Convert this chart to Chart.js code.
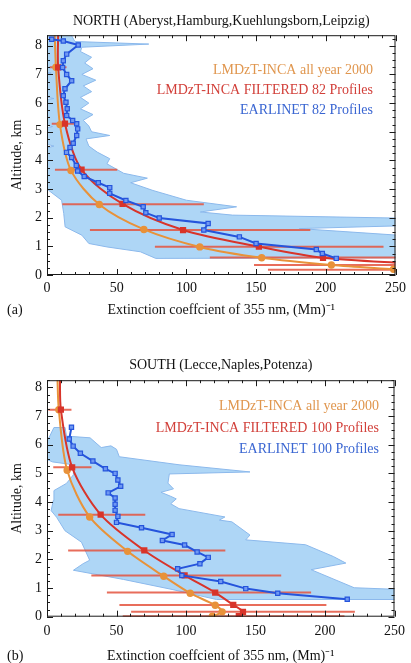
<!DOCTYPE html>
<html>
<head>
<meta charset="utf-8">
<script src="https://cdn.jsdelivr.net/npm/chart.js@4"></script>
<style>
  body { margin: 0; background: #fff; width: 411px; height: 663px; overflow: hidden; }
  canvas { position: absolute; left: 0; }
  #north { top: 0; }
  #south { top: 330px; }
</style>
</head>
<body>
<canvas id="north" width="411" height="330"></canvas>
<canvas id="south" width="411" height="333"></canvas>
<script>
// axis ticks
const xTicks = [0, 50, 100, 150, 200, 250];
const yTicks = [0, 1, 2, 3, 4, 5, 6, 7, 8];

// ---- NORTH panel ----
const northAllYearExt = [248.6, 204, 154, 109.6, 69.5, 37.5, 17.2, 9.3, 6.4, 5.5];
const northAllYearAlt = [0.2, 0.35, 0.6, 0.98, 1.59, 2.46, 3.65, 5.25, 7.25, 8.45];

const northFilteredExt = [300, 275, 198, 152, 97.6, 54.2, 24.8, 12.9, 8, 8];
const northFilteredAlt = [0.18, 0.35, 0.6, 0.99, 1.57, 2.48, 3.68, 5.28, 7.25, 8.45];

const northBarAlt = [7.25, 5.28, 3.67, 2.47, 1.57, 0.99, 0.61, 0.35, 0.18];
const northBarLo = [2, 3.4, 5.7, 11, 30.8, 77.4, 116.8, 148.5, 158.5];
const northBarHi = [14, 20, 50.4, 112.5, 188.9, 241.4, 400, 400, 420];

const northEarlExt = [207.5, 197.5, 193.2, 150, 138, 112.5, 115.6, 80.5, 70.9, 69, 56.6, 45, 45, 36.8, 26.7, 22, 21, 17.7, 14,
  16.5, 18.8, 21.3, 22, 21.3, 18.4, 14.1, 14.5, 13.6, 11.7, 12.9, 17.7, 14.1, 11.2, 11.7, 14.1, 22.4, 11.7, 3.4];
const northEarlAlt = [0.58, 0.75, 0.89, 1.1, 1.33, 1.57, 1.8, 1.99, 2.17, 2.38, 2.6, 2.85, 3.05, 3.22, 3.44, 3.63, 3.82, 4.1, 4.28,
  4.45, 4.6, 4.87, 5.1, 5.28, 5.39, 5.57, 5.8, 6.03, 6.26, 6.5, 6.78, 7.0, 7.24, 7.48, 7.71, 8.03, 8.17, 8.23];

// spread of the EARLINET profiles: left edge bottom->top, right edge top->bottom
const northBandLeftExt = [78, 67, 43, 30, 25, 13, 12, 10.5, 1, -3, -3, 5, -3, -3, 4, -3, -3, 5, -3, -3, 3, -3, -3];
const northBandLeftAlt = [0.58, 0.81, 0.98, 1.1, 1.39, 1.68, 2.15, 2.61, 2.96, 3.3, 4.4, 4.5, 4.6, 5.1, 5.18, 5.26, 6.1, 6.16, 6.22, 7.0, 7.05, 7.1, 8.5];
const northBandRightExt = [16, 20, 73, 25, 24, 32, 27, 33, 25, 35, 26, 32, 24, 30, 24, 33, 26, 30, 32, 45, 28, 30, 36, 45, 43,
  55, 72, 60, 76, 100, 136, 110, 133, 270, 270, 181, 270, 270];
const northBandRightAlt = [8.5, 8.15, 8.06, 7.95, 7.8, 7.6, 7.4, 7.2, 7.0, 6.8, 6.6, 6.4, 6.2, 6.0, 5.8, 5.6, 5.4, 5.2, 5.0, 4.87, 4.75, 4.5, 4.29, 4.06, 3.88,
  3.55, 3.38, 3.22, 2.95, 2.61, 2.38, 2.2, 2.09, 1.97, 1.74, 1.62, 1.33, 0.6];

// ---- SOUTH panel ----
const southAllYearExt = [119, 126, 121, 103, 84, 58, 30.7, 14.5, 8.5, 7.5];
const southAllYearAlt = [0.02, 0.17, 0.4, 0.82, 1.41, 2.28, 3.48, 5.11, 7.22, 8.35];

const southFilteredExt = [138, 141, 134, 121, 99, 70, 38.6, 18.1, 10, 9.3];
const southFilteredAlt = [0.02, 0.17, 0.41, 0.84, 1.44, 2.31, 3.56, 5.21, 7.22, 8.35];

const southBarAlt = [7.22, 5.21, 3.56, 2.31, 1.44, 0.84, 0.41, 0.17, 0.02];
const southBarLo = [1, 4.5, 8.1, 15.2, 31.9, 43.1, 52.1, 60.5, 54.5];
const southBarHi = [17.6, 32, 70.7, 128.3, 168.5, 190, 201, 221.5, 214];

const southEarlExt = [216, 166, 143, 125, 97, 94, 110, 116, 108, 99, 83, 90, 68, 50, 51, 49, 49, 49, 44, 53, 51, 49, 42, 33, 24, 18.8, 16, 17.6];
const southEarlAlt = [0.61, 0.82, 0.98, 1.23, 1.44, 1.67, 1.85, 2.07, 2.26, 2.5, 2.66, 2.87, 3.1, 3.29, 3.5, 3.71, 3.92, 4.14, 4.32, 4.55, 4.77, 5.0, 5.16, 5.43, 5.7, 5.95, 6.2, 6.61];

const southBandLeftExt = [122, 90, 55, 19, 26, 30.7, 24.8, 12.9, 6.9, 3, 4.5, 5, 14, 19, 19, 4, -3, -3, 2, 5];
const southBandLeftAlt = [0.6, 0.95, 1.3, 1.62, 1.85, 1.97, 2.6, 3.0, 3.47, 3.7, 4.05, 4.4, 4.65, 4.95, 5.3, 5.4, 5.55, 5.9, 6.3, 6.6];
const southBandRightExt = [13, 14, 31, 39, 46, 50, 52, 95, 146, 88, 87, 91, 82, 89, 93, 89, 95, 128, 124, 133, 146, 143, 186, 206, 215, 190, 221, 270, 270];
const southBandRightAlt = [6.6, 6.3, 6.24, 5.9, 5.96, 5.84, 5.58, 5.3, 5.05, 4.98, 4.66, 4.46, 4.34, 4.2, 4.11, 3.94, 3.77, 3.48, 3.37, 3.31, 2.85, 2.68, 2.51, 2.1, 1.87, 1.64, 1.01, 0.92, 0.6];

const X_TITLE = 'Extinction coeffcient of 355 nm, (Mm)\u207B\u00B9';
const SERIF = "'Liberation Serif', 'Times New Roman', serif";

Chart.defaults.font.family = SERIF;
Chart.defaults.font.size = 14;
Chart.defaults.color = '#111';

const ORANGE = '#e8923a';
const RED = '#d8342a';
const BLUE = '#2554dc';
const BAR = 'rgba(228,84,62,0.85)';

function pts(xs, ys) {
  return xs.map((x, i) => ({ x: x, y: ys[i] }));
}

function lastNoMarker(r) {
  return c => (c.dataIndex === c.dataset.data.length - 1 ? 0 : r);
}

function buildDatasets(d) {
  const sets = [];
  const band = pts(d.bandLX, d.bandLY).concat(pts(d.bandRX, d.bandRY));
  band.push(band[0]);
  sets.push({
    data: band, fill: 'shape', backgroundColor: 'rgba(170,212,246,0.95)',
    borderColor: '#8cb9ec', borderWidth: 1, pointRadius: 0, tension: 0, order: 9
  });
  d.barAlt.forEach((a, i) => {
    sets.push({
      data: [{ x: d.barLo[i], y: a }, { x: d.barHi[i], y: a }],
      borderColor: BAR, borderWidth: 2, pointRadius: 0, order: 5
    });
  });
  sets.push({
    data: pts(d.allX, d.allY), borderColor: ORANGE, borderWidth: 2, tension: 0.3,
    pointStyle: 'circle', pointRadius: lastNoMarker(2.7), pointBackgroundColor: ORANGE, pointBorderColor: ORANGE, order: 3
  });
  sets.push({
    data: pts(d.filtX, d.filtY), borderColor: RED, borderWidth: 2, tension: 0.3,
    pointStyle: 'rect', pointRadius: lastNoMarker(3), pointBackgroundColor: RED, pointBorderColor: RED, order: 2
  });
  sets.push({
    data: pts(d.earlX, d.earlY), borderColor: BLUE, borderWidth: 2, tension: 0,
    pointStyle: 'rect', pointRadius: 3, pointBackgroundColor: '#6f98f2', pointBorderColor: BLUE, pointBorderWidth: 1.2, order: 1
  });
  return sets;
}

// inward ticks on all four sides plus the frame
const frameTicks = {
  id: 'frameTicks',
  afterDatasetsDraw(chart) {
    const { ctx, chartArea: a, scales: { x, y } } = chart;
    ctx.save();
    ctx.strokeStyle = '#1a1a1a';
    ctx.lineWidth = 1;
    ctx.strokeRect(a.left + 0.5, a.top + 0.5, a.right - a.left - 1, a.bottom - a.top - 1);
    ctx.beginPath();
    for (let i = 0; i * 10 <= x.max; i++) {
      const px = Math.round(x.getPixelForValue(i * 10)) + 0.5;
      const len = i % 5 === 0 ? 6 : 3;
      ctx.moveTo(px, a.bottom); ctx.lineTo(px, a.bottom - len);
      ctx.moveTo(px, a.top); ctx.lineTo(px, a.top + len);
    }
    for (let i = 0; i * 0.25 <= y.max; i++) {
      const py = Math.round(y.getPixelForValue(i * 0.25)) + 0.5;
      const len = i % 4 === 0 ? 6 : 3;
      ctx.moveTo(a.left, py); ctx.lineTo(a.left + len, py);
      ctx.moveTo(a.right, py); ctx.lineTo(a.right - len, py);
    }
    ctx.stroke();
    ctx.restore();
  }
};

// in-plot legend text and panel tag
const notes = {
  id: 'notes',
  afterDraw(chart, args, o) {
    const ctx = chart.ctx;
    ctx.save();
    ctx.font = '14px ' + SERIF;
    ctx.textBaseline = 'middle';
    ctx.textAlign = 'right';
    o.lines.forEach((t, i) => {
      ctx.fillStyle = o.colors[i];
      ctx.fillText(t, o.right, o.rows[i]);
    });
    ctx.textAlign = 'left';
    ctx.fillStyle = '#111';
    ctx.fillText(o.tag, o.tagX, o.tagY);
    ctx.restore();
  }
};

function makeOptions(p) {
  return {
    responsive: false,
    animation: false,
    layout: { padding: { left: 0, right: p.padRight, top: 0, bottom: 0 } },
    plugins: {
      legend: { display: false },
      tooltip: { enabled: false },
      title: {
        display: true, text: p.title, fullSize: false, color: '#111',
        font: { size: 14, weight: 'normal', lineHeight: 1.2 }, padding: p.titlePad
      },
      notes: {
        lines: p.lines, colors: ['#e0964e', '#d2403a', '#3a66d2'],
        right: p.noteRight, rows: p.noteRows, tag: p.tag, tagX: 7, tagY: p.tagY
      }
    },
    scales: {
      x: {
        type: 'linear', min: 0, max: 250,
        afterBuildTicks: s => { s.ticks = xTicks.map(v => ({ value: v })); },
        afterFit: s => { s.height = p.xHeight; },
        grid: { display: false, drawTicks: false },
        border: { display: false },
        ticks: { padding: p.xPad, color: '#111', font: { size: 14 } },
        title: {
          display: true, text: X_TITLE, color: '#111',
          font: { size: 14, lineHeight: 1 }, padding: { top: 0, bottom: p.xTitlePad }
        }
      },
      y: {
        type: 'linear', min: 0, max: p.yMax,
        afterBuildTicks: s => { s.ticks = yTicks.map(v => ({ value: v })); },
        afterFit: s => { s.width = 47; },
        grid: { display: false, drawTicks: false },
        border: { display: false },
        ticks: { padding: 5, color: '#111', font: { size: 14 } },
        title: {
          display: true, text: 'Altitude, km', color: '#111',
          font: { size: 14, lineHeight: 1.2 }, padding: { top: 8.6, bottom: 0 }
        }
      }
    }
  };
}

new Chart(document.getElementById('north'), {
  type: 'line',
  data: {
    datasets: buildDatasets({
      bandLX: northBandLeftExt, bandLY: northBandLeftAlt, bandRX: northBandRightExt, bandRY: northBandRightAlt,
      barAlt: northBarAlt, barLo: northBarLo, barHi: northBarHi,
      allX: northAllYearExt, allY: northAllYearAlt,
      filtX: northFilteredExt, filtY: northFilteredAlt,
      earlX: northEarlExt, earlY: northEarlAlt
    })
  },
  options: makeOptions({
    title: 'NORTH (Aberyst,Hamburg,Kuehlungsborn,Leipzig)',
    titlePad: { top: 13, bottom: 5.4 },
    padRight: 15, yMax: 8.37, xHeight: 55, xPad: 5, xTitlePad: 13,
    lines: ['LMDzT-INCA all year 2000', 'LMDzT-INCA FILTERED 82 Profiles', 'EARLINET 82 Profiles'],
    noteRight: 373, noteRows: [70, 90, 110], tag: '(a)', tagY: 310
  }),
  plugins: [frameTicks, notes]
});

new Chart(document.getElementById('south'), {
  type: 'line',
  data: {
    datasets: buildDatasets({
      bandLX: southBandLeftExt, bandLY: southBandLeftAlt, bandRX: southBandRightExt, bandRY: southBandRightAlt,
      barAlt: southBarAlt, barLo: southBarLo, barHi: southBarHi,
      allX: southAllYearExt, allY: southAllYearAlt,
      filtX: southFilteredExt, filtY: southFilteredAlt,
      earlX: southEarlExt, earlY: southEarlAlt
    })
  },
  options: makeOptions({
    title: 'SOUTH (Lecce,Naples,Potenza)',
    titlePad: { top: 27.2, bottom: 6.2 },
    padRight: 14, yMax: 8.25, xHeight: 46.3, xPad: 6, xTitlePad: 0,
    lines: ['LMDzT-INCA all year 2000', 'LMDzT-INCA FILTERED 100 Profiles', 'EARLINET 100 Profiles'],
    noteRight: 379, noteRows: [76, 98, 119], tag: '(b)', tagY: 326
  }),
  plugins: [frameTicks, notes]
});
</script>
</body>
</html>
